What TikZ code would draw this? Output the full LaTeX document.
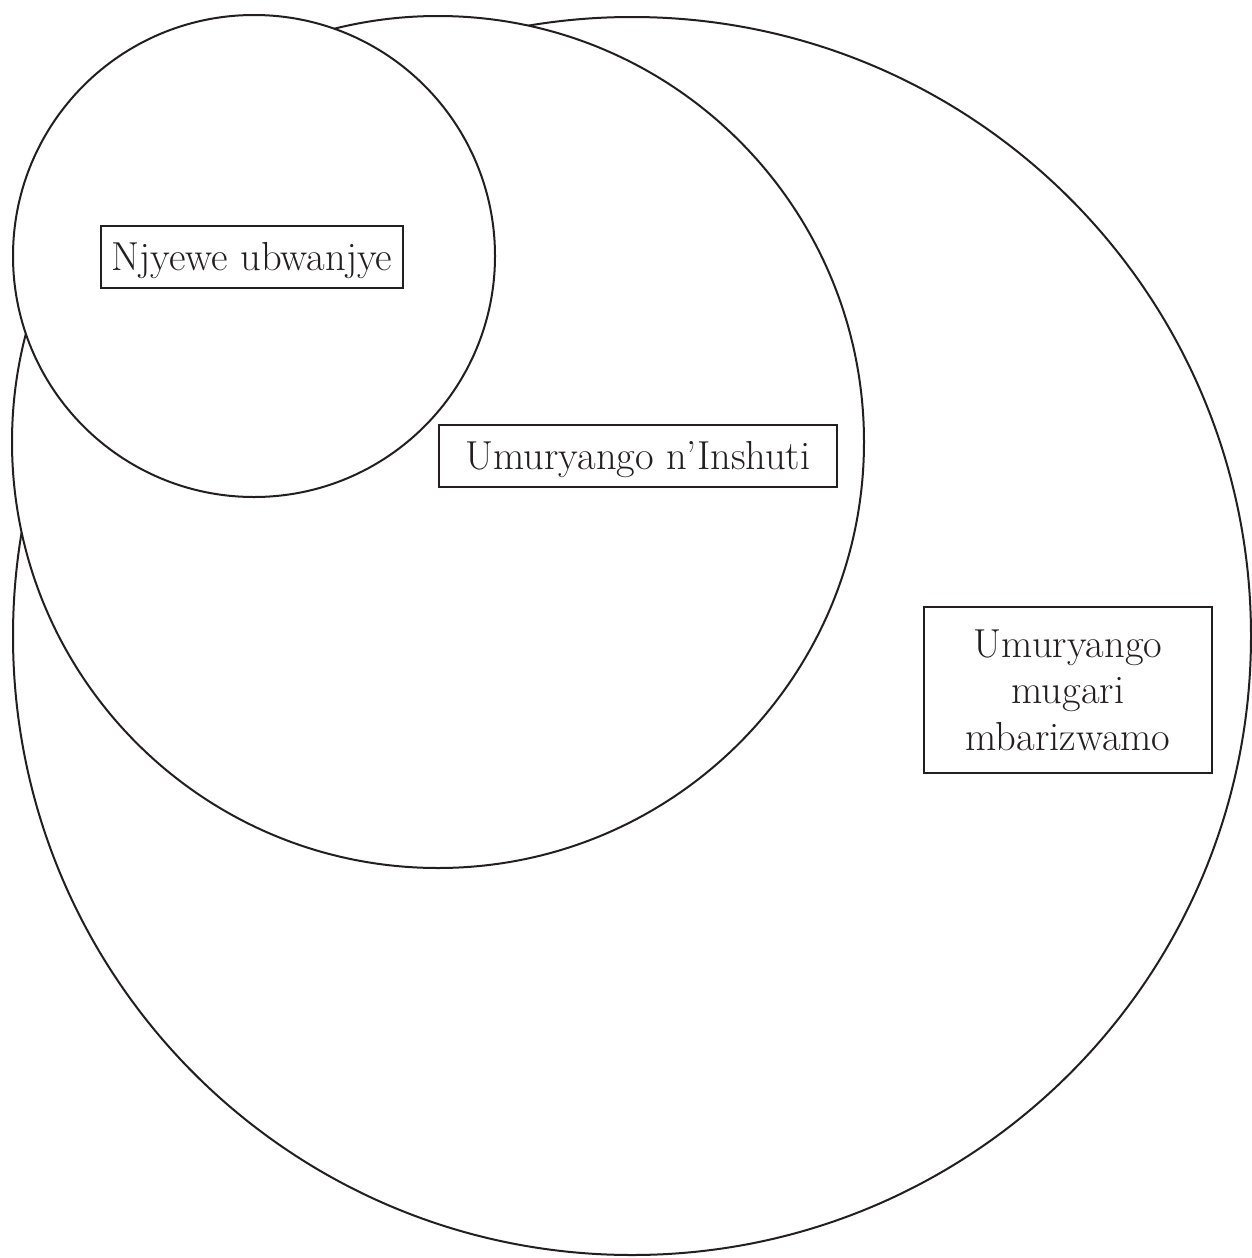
\documentclass[tikz,border=0pt]{standalone}
\usepackage{tikz}
\definecolor{ink}{HTML}{231F20}
\begin{document}
\begin{tikzpicture}[x=1pt,y=-1pt,
  ring/.style={draw=ink,fill=white,line width=2pt},
  label/.style={draw=ink,fill=white,line width=1.8pt,inner sep=0pt,font=\fontsize{40.5}{46.5}\selectfont,text=ink},
  oneline/.style={label,text height=27.5pt,text depth=0pt}]
\useasboundingbox (0,0) rectangle (1251,1258);
\draw[ring] (632,636) circle[radius=619];
\draw[ring] (438,442) circle[radius=426];
\draw[ring] (254,256) circle[radius=241];
\node[oneline,minimum width=302pt,minimum height=62pt] (self) at (252,257) {Njyewe ubwanjye};
\node[oneline,minimum width=398pt,minimum height=62pt] (family) at (638,456) {Umuryango n’Inshuti};
\node[label,align=center,minimum width=288pt,minimum height=166pt] (wide) at (1068,690) {Umuryango\\mugari\\mbarizwamo};
\end{tikzpicture}
\end{document}
